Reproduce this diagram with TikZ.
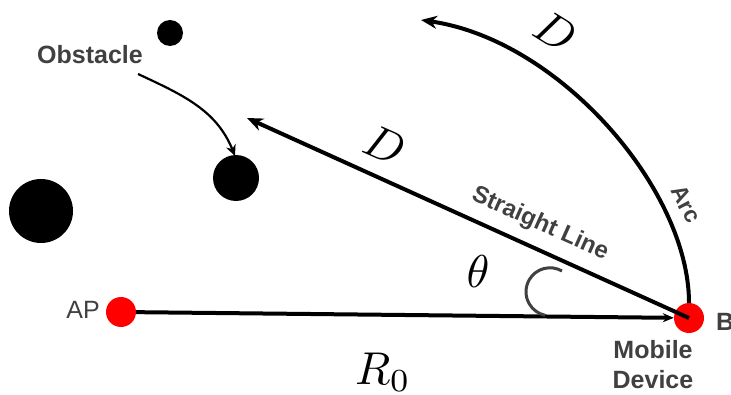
\documentclass[tikz,border=0pt]{standalone}
\usepackage{fontspec}
\newfontfamily\arialfont{Liberation Sans}
\usetikzlibrary{arrows.meta}
\definecolor{labelgray}{HTML}{404040}
\begin{document}
\begin{tikzpicture}[x=1pt,y=1pt,
	obstacle/.style={ circle, fill=black, inner sep=0pt },
	station/.style={ circle, fill=red, inner sep=0pt, minimum size=30pt },
	lbl/.style={ text=labelgray, font=\arialfont\bfseries\fontsize{25}{30}\selectfont, inner sep=0pt, align=center },
	lblthin/.style={ text=labelgray, font=\arialfont\fontsize{25}{30}\selectfont, inner sep=0pt },
	mathlbl/.style={ scale=4.6, inner sep=0pt },
	thick line/.style={ line width=4pt },
	bigtip/.style={ -{Stealth[length=16pt,width=13pt]} }
]

\clip (0,0) rectangle (731,394);

\node at (170,361) (o1) [obstacle,minimum size=26pt] {};
\node at (236,216) (o2) [obstacle,minimum size=46pt] {};
\node at (41,183) (o3) [obstacle,minimum size=64pt] {};
\node at (90,339) (obst) [lbl] {Obstacle};
\coordinate (obststart) at (138,320);
\coordinate (obstend) at (235,238);
\draw[line width=2.2pt,-{Stealth[length=11pt,width=10pt]}]
  (obststart) to [out=-25,in=112] (obstend);

\node at (121,82) (ap) [station] {};
\node at (689,76) (b) [station] {};
\node at (100,84) (aplbl) [lblthin,anchor=east] {AP};
\node at (716,72) (blbl) [lbl,anchor=west] {B};
\node at (653,29) (mobile) [lbl] {Mobile\\Device};

\draw[line width=4pt,-{Stealth[length=11pt,width=9pt]}] (ap) -- (b);
\coordinate (linetip) at (247,276);
\draw[thick line,bigtip] (b.center) -- (linetip);
\coordinate (arctip) at (421,374);
\draw[thick line,bigtip] (b.north) .. controls (689,204) and (560,354) .. (arctip);

\draw[labelgray,line width=3pt] (562,123) arc (60:258:24);

\node at (385,249) (dline) [mathlbl,rotate=-24] {$D$};
\node at (556,362) (darc) [mathlbl,rotate=-32] {$D$};
\node at (478,122) (theta) [mathlbl] {$\theta$};
\node at (383,22) (rzero) [mathlbl] {$R_0$};
\node at (540,170) (strlbl) [lbl,rotate=-24,font=\arialfont\bfseries\fontsize{24}{28}\selectfont] {Straight Line};
\node at (686,190) (arclbl) [lbl,rotate=-62,font=\arialfont\bfseries\fontsize{23}{26}\selectfont] {Arc};

\end{tikzpicture}
\end{document}
